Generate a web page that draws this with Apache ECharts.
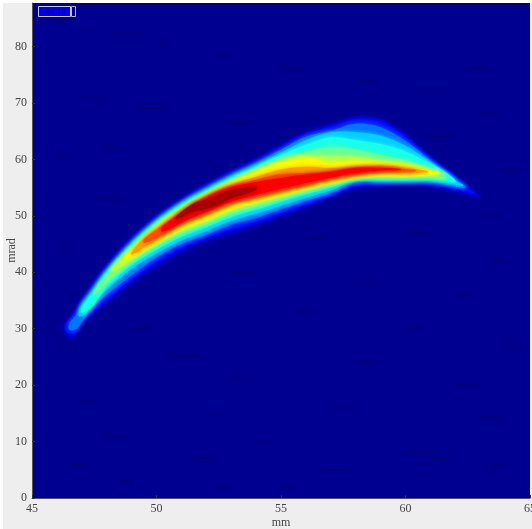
<!DOCTYPE html>
<html><head><meta charset="utf-8">
<style>
html,body{margin:0;padding:0;background:#fff;width:532px;height:529px;overflow:hidden}
#bg{position:absolute;left:3px;top:3px;width:529px;height:526px;background:#eeeeee}
#c{position:absolute;left:0;top:0;width:532px;height:529px}
</style>
<script src="https://cdn.jsdelivr.net/npm/echarts@6/dist/echarts.min.js"></script>
</head><body><div id="bg"></div><div id="c"></div>
<script>
// x ticks (mm), y ticks (mrad)
const xTicks=[45,50,55,60,65];
const yTicks=[0,10,20,30,40,50,60,70,80];
const xRange=[45,65];
const yRange=[0,87.7];
const levels=[0.08,0.14,0.24,0.33,0.40,0.48,0.56,0.63,0.72,0.80,0.88,0.96];
// Iso-intensity bands: [mm, upper mrad, lower mrad]
const bandA=[[46.3,30.6,29.6],[46.6,32.4,28.3],[47,35.2,30.9],[47.5,38.4,32.8],[48,41.4,34.6],[49,46.3,38.1],[50,50.1,41.1],[51,53.1,43.6],[52,55.7,45.6],[53,58,47],[54,60.1,48.4],[55,62.6,50],[56,64.8,51.6],[57,66.2,53.4],[58,67.5,55],[59,67.2,55.4],[59.5,66,55.6],[60,64.5,55.7],[61,60.5,55.4],[62,57.1,54.4],[62.5,55.2,53.9],[63,53.6,53.3]];
const bandB=[[46.4,31,29.4],[46.7,32.5,29.2],[47,34.8,31.4],[47.5,37.9,33.4],[48,40.9,35.2],[49,45.8,38.8],[50,49.7,41.8],[51,52.7,44.3],[52,55.3,46.2],[53,57.6,47.6],[54,59.7,49],[55,62.1,50.5],[56,64.4,52],[57,65.8,53.7],[58,67.1,55.3],[59,66.7,55.6],[59.5,65.5,55.7],[60,64,55.8],[61,60,55.6],[62,56.8,54.8],[62.5,54.9,54.2],[62.8,54,53.8]];
const bandC=[[46.5,30.9,29.8],[46.8,32.6,30],[47,34.5,31.2],[47.5,37.4,34],[48,40.5,36],[49,45.4,39.4],[50,49.4,42.6],[51,52.5,45],[52,55,46.6],[53,57.3,48.4],[54,59.4,49.6],[55,61.7,51.1],[56,64,52.6],[57,65,54],[58,66.3,55.9],[59,65.7,55.9],[60,63.3,55.9],[61,59.8,55.9],[62,56.4,55.2],[62.4,55.3,54.9]];
const bandD=[[46.9,33.4,32.2],[47.2,35.4,32.8],[47.6,37.8,35.2],[48,40.2,36.9],[49,45.2,40.6],[50,49.1,43.3],[51,52.2,45.6],[52,54.7,47.3],[53,57,49.1],[54,59,50.4],[55,61.2,51.8],[56,63.4,53.2],[57,64.8,54.5],[58,64.8,56.1],[59,64.2,56.1],[60,62.4,56.1],[61,59.5,56.1],[62,56.2,55.5],[62.3,55.5,55.2]];
const bandE=[[47,33.8,32.8],[47.4,36.2,33.8],[47.8,38.9,36.2],[48,40,37.4],[49,44.9,41.3],[50,48.9,44],[51,52,46.3],[52,54.4,48],[53,56.7,49.8],[54,58.7,51.1],[55,60.8,52.5],[56,62.6,53.8],[57,63.9,55],[58,63.4,56.4],[59,62.7,56.4],[60,61.4,56.4],[61,59.2,56.4],[61.6,57.7,56.2],[62,56.3,55.9]];
const bandF=[[47.5,36.6,36],[48,39.6,38.1],[48.5,42.3,40],[49,44.6,41.8],[50,48.6,44.6],[51,51.7,46.8],[52,54.2,48.5],[53,56.4,50.3],[54,58.4,51.6],[55,60.3,52.9],[56,61.3,54.2],[57,62.2,55.3],[58,61.7,56.6],[59,60.8,56.7],[60,59.8,56.7],[61,58.4,56.7],[61.6,57.4,56.5]];
const bandG=[[48.2,40.7,40.1],[48.6,42.5,41],[49,44.2,42.3],[50,48.3,45],[51,51.4,47.3],[52,53.9,49],[53,56.1,50.9],[54,58.1,52.2],[55,59.9,53.4],[56,60.8,54.6],[57,60.5,55.7],[58,60.5,56.7],[59,59.9,56.9],[60,59.4,56.9],[61,58.2,57.1],[61.4,57.7,57.4]];
const bandH=[[48.7,42.8,42.2],[49,43.9,42.8],[50,48,45.4],[51,51,47.9],[52,53.7,49.6],[53,55.9,51.4],[54,57.8,52.6],[55,59.3,53.8],[56,60.2,55],[57,59.4,56],[58,59.6,56.8],[59,59.4,57.3],[60,59,57.3],[61,58,57.4],[61.3,57.8,57.6]];
const bandI=[[49,43.6,43.1],[49.5,46,44.4],[50,47.7,45.7],[51,50.8,48.3],[52,53.5,50],[53,55.5,51.9],[54,56.9,53],[55,58.2,54.1],[56,58.7,55.2],[57,58.5,56.3],[58,58.7,57.1],[59,58.9,57.6],[60,58.5,57.6],[60.9,57.9,57.7]];
const bandJ=[[49.5,45.8,45.2],[50,47.5,46],[51,50.6,48.6],[52,53.4,50.4],[53,55.3,52.2],[54,56.4,53.3],[55,57.4,54.4],[56,57.6,55.4],[57,58,56.5],[58,58.6,57.3],[59,58.7,57.8],[60,58.3,57.8],[60.4,58.1,57.9]];
const bandK=[[50.2,47.9,47.2],[50.5,49,47.6],[51,50.4,48.8],[52,53.2,50.7],[53,55.1,52.5],[54,56,53.7],[55,56.7,54.8],[56,57.3,55.8],[57,57.8,56.8],[58,58.5,57.6],[59,58.5,58],[59.8,58.3,58.1]];
const bandL=[[50.8,49.9,49.4],[51.5,52.2,50.7],[52,52.9,51.2],[52.5,53.8,52],[53,54.6,53.1],[53.6,55,53.9],[54,55.1,54.6]];
const bands=[bandA,bandB,bandC,bandD,bandE,bandF,bandG,bandH,bandI,bandJ,bandK,bandL];
// faint dark noise streaks in the background: [mm start, mrad, mm length]
const specks=[[46,84.5,.6],[47,83,.5],[48.2,82,1.2],[50,80.5,.6],[52.3,78.5,.8],[55,76,.8],[58,74,.6],[62.5,76,.9],[47,71,.7],[49.4,69,.9],[53,66.5,.7],[60.5,72,1.2],[63,68,.7],[48,62,.6],[46,60,.5],[61,64,.9],[64,58,.5],[47.5,53,1.2],[63,50,.8],[46,44,.5],[56,46,.8],[60,47,.9],[63.5,42,.6],[47,38,1.2],[53,40,1],[58,38,.7],[62,36,.8],[49,30,.8],[55.5,33,.9],[60,30,.6],[64,27,.7],[46,27,.9],[50.5,25,1.4],[53,21,.8],[58,24,.7],[62,20,.9],[47,17,.6],[52,15,.8],[57,16,1],[63,14,.8],[48,11,.9],[54,10,.6],[60,8,1.2],[46.5,6,.6],[51.5,7,.7],[56.5,5,1.3],[61,7,.8],[63.5,5.5,.6],[48.5,3,.5],[52.5,1.8,.4],[55,1.6,.5],[60.3,4,.9]];

function clamp(v){return Math.max(0,Math.min(1,v));}
function jet(v){
  const r=clamp(1.5-Math.abs(4*v-3)),g=clamp(1.5-Math.abs(4*v-2)),b=clamp(1.5-Math.abs(4*v-1));
  return 'rgb('+Math.round(r*255)+','+Math.round(g*255)+','+Math.round(b*255)+')';
}
const chart=echarts.init(document.getElementById('c'),null,{renderer:'canvas'});
const labelFont={fontFamily:'Liberation Serif',fontSize:12,color:'#444'};
const series=[{
  type:'custom',coordinateSystem:'cartesian2d',silent:true,clip:true,z:1,
  data:specks,
  renderItem:function(p,api){
    const s=specks[p.dataIndex];
    const a=api.coord([s[0],s[1]]),b=api.coord([s[0]+s[2],s[1]]);
    return {type:'line',shape:{x1:a[0],y1:a[1],x2:b[0],y2:b[1]},
      style:{stroke:'rgba(0,0,100,0.5)',lineWidth:1.2,shadowBlur:2,shadowColor:'rgba(0,0,100,0.5)'}};
  }
}];
bands.forEach(function(band,i){
  series.push({
    type:'custom',coordinateSystem:'cartesian2d',silent:true,clip:true,z:2+i,
    data:[[band[0][0],band[0][1],levels[i]]],
    renderItem:function(p,api){
      const up=band.map(function(r){return api.coord([r[0],r[1]]);});
      const lo=band.slice().reverse().map(function(r){return api.coord([r[0],r[2]]);});
      const col=jet(levels[i]);
      return {type:'polygon',shape:{points:up.concat(lo),smooth:0.35},
        style:{fill:col,shadowBlur:4,shadowColor:col}};
    }
  });
});
chart.setOption({
  animation:false,
  backgroundColor:'transparent',
  grid:{left:32,right:2,top:3,bottom:31,backgroundColor:'#000090',show:true,borderWidth:0,outerBoundsMode:'none',containLabel:false},
  xAxis:{type:'value',min:xRange[0],max:xRange[1],
    name:'mm',nameLocation:'middle',nameGap:19,nameMoveOverlap:false,
    nameTextStyle:labelFont,
    axisLine:{show:true,onZero:false,lineStyle:{color:'#555',width:1}},
    axisTick:{show:true,inside:true,length:3,lineStyle:{color:'#333'},customValues:xTicks},
    axisLabel:Object.assign({},labelFont,{margin:5,customValues:xTicks,hideOverlap:false,showMinLabel:true,showMaxLabel:true}),
    splitLine:{show:false}},
  yAxis:{type:'value',min:yRange[0],max:yRange[1],
    name:'mrad',nameLocation:'middle',nameGap:14,nameRotate:90,nameMoveOverlap:false,
    nameTextStyle:labelFont,
    axisLine:{show:true,onZero:false,lineStyle:{color:'#555',width:1}},
    axisTick:{show:true,inside:true,length:3,lineStyle:{color:'#333'},customValues:yTicks},
    axisLabel:Object.assign({},labelFont,{margin:5,customValues:yTicks}),
    splitLine:{show:false}},
  graphic:[
    {type:'rect',z:100,shape:{x:38.5,y:6.5,width:32,height:10},style:{fill:'#0000f0',stroke:'#c8c8f8',lineWidth:1}},
    {type:'text',z:101,style:{x:54.5,y:11.5,text:'noGUI',fill:'#000090',fontFamily:'Liberation Sans',fontSize:8,align:'center',verticalAlign:'middle'}},
    {type:'rect',z:100,shape:{x:71.5,y:6.5,width:4,height:10},style:{fill:'#000080',stroke:'#b8b8d0',lineWidth:1}}
  ],
  series:series
});
</script>
</body></html>
